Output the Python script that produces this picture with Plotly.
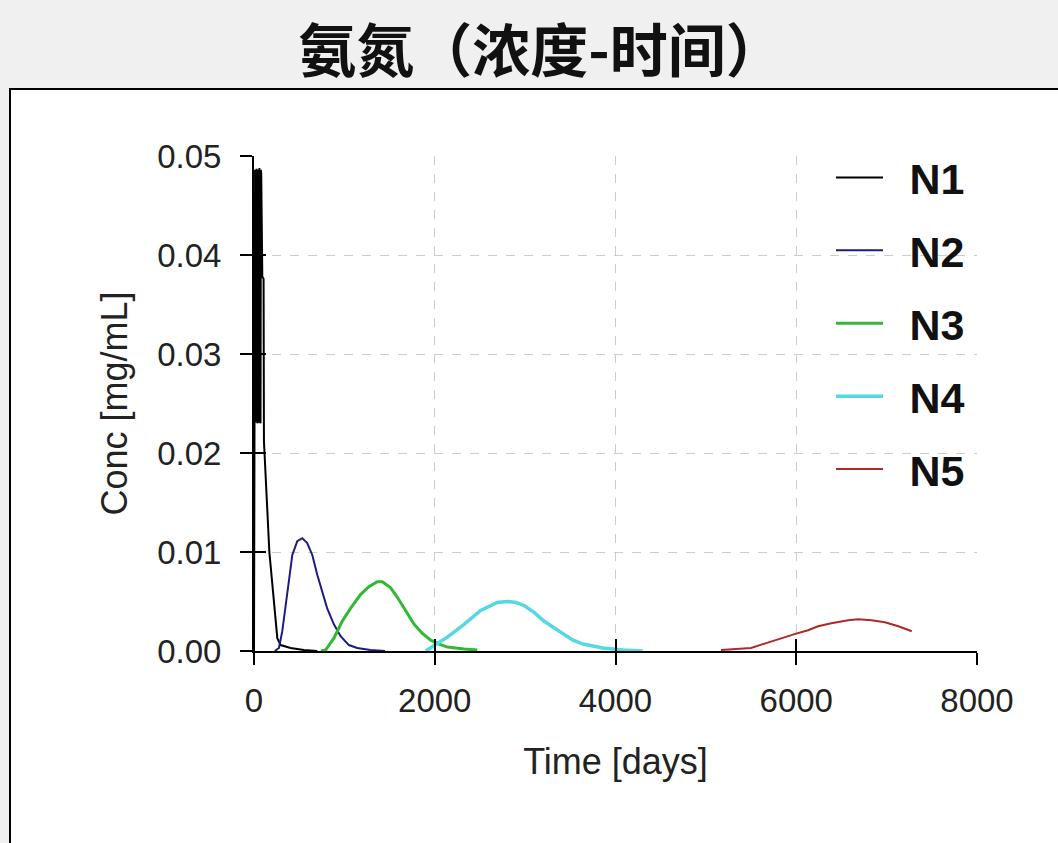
import plotly.graph_objects as go

# ---------------- data ----------------
series_names = ["N1", "N2", "N3", "N4", "N5"]

n1_t = [0, 4, 8, 12, 16, 20, 24, 28, 32, 36, 40, 44, 48, 52, 56, 60, 64, 68, 72,
        76, 80, 92, 106, 110, 170, 239, 258, 295, 405, 552, 700]
n1_c = [0.0000, 0.0480, 0.0232, 0.0486, 0.0235, 0.0484, 0.0231, 0.0487, 0.0234,
        0.0483, 0.0230, 0.0486, 0.0233, 0.0485, 0.0231, 0.0488, 0.0234, 0.0484,
        0.0230, 0.0486, 0.0482, 0.0378, 0.0376, 0.0212, 0.0100, 0.0030,
        0.0013, 0.0006, 0.0003, 0.0001, 0.0000]

n2_t = [230, 276, 313, 350, 387, 424, 479, 534, 589, 645, 700, 755, 810, 884, 958,
        1050, 1142, 1289, 1450]
n2_c = [0.0000, 0.0003, 0.0020, 0.0047, 0.0074, 0.0097, 0.0111, 0.0114, 0.0109,
        0.0097, 0.0077, 0.0060, 0.0043, 0.0027, 0.0015, 0.0006, 0.0003, 0.0001,
        0.0000]

n3_t = [740, 792, 884, 976, 1068, 1179, 1271, 1363, 1420, 1510, 1588, 1680, 1772,
        1860, 1956, 2050, 2140, 2325, 2470]
n3_c = [0.0000, 0.0001, 0.0013, 0.0030, 0.0043, 0.0057, 0.0065, 0.0070, 0.0070,
        0.0064, 0.0054, 0.0040, 0.0027, 0.0018, 0.0011, 0.0007, 0.0004, 0.0002,
        0.0001]

n4_t = [1900, 2000, 2140, 2325, 2508, 2692, 2800, 2900, 2987, 3100, 3198, 3310,
        3420, 3530, 3640, 3860, 4085, 4300]
n4_c = [0.0000, 0.0006, 0.0014, 0.0027, 0.0041, 0.0049, 0.0050, 0.0049, 0.0046,
        0.0039, 0.0031, 0.0024, 0.0017, 0.0011, 0.0007, 0.0003, 0.0001, 0.0000]

n5_t = [5167, 5500, 5685, 5833, 5981, 6130, 6241, 6389, 6574, 6685, 6833, 6981,
        7130, 7278]
n5_c = [0.0001, 0.0003, 0.00085, 0.0013, 0.0017, 0.0021, 0.0025, 0.0028, 0.0031,
        0.0032, 0.0031, 0.0029, 0.0025, 0.0020]

x_ticks = [0, 2000, 4000, 6000, 8000]
y_ticks = [0.00, 0.01, 0.02, 0.03, 0.04, 0.05]
y_tick_labels = ["0.00", "0.01", "0.02", "0.03", "0.04", "0.05"]

title_text = "氨氮（浓度-时间）"
x_title = "Time [days]"
y_title = "Conc [mg/mL]"

# ---------------- styling ----------------
colors = ["#000000", "#1c1c80", "#33b833", "#55d8e2", "#b02828"]
widths = [2, 2, 3, 3.5, 2]
all_t = [n1_t, n2_t, n3_t, n4_t, n5_t]
all_c = [n1_c, n2_c, n3_c, n4_c, n5_c]

W, H = 1058, 843
L, R, T, B = 254, 81, 156, 192
pw, ph = W - L - R, H - T - B

def px(xp):
    return (xp - L) / pw

def py(yp):
    return (H - B - yp) / ph

fig = go.Figure()
for i, name in enumerate(series_names):
    fig.add_trace(go.Scatter(
        x=all_t[i], y=all_c[i], mode="lines", name="\u2002" + name,
        legendgroup=name,
        line=dict(color=colors[i], width=widths[i]),
    ))

font_axis = "Liberation Sans, Arial, sans-serif"

fig.update_layout(
    width=W, height=H, autosize=False,
    margin=dict(l=L, r=R, t=T, b=B, pad=0),
    paper_bgcolor="#f0f0f0",
    plot_bgcolor="#ffffff",
    showlegend=True,
    title=dict(
        text=title_text, xref="container", x=541 / W, xanchor="center",
        yref="container", y=1 - 52 / H, yanchor="middle",
        font=dict(family="Noto Sans CJK SC", size=58, color="#111111", weight="bold"),
    ),
    legend=dict(
        x=px(831), xanchor="left", y=py(143), yanchor="top",
        bgcolor="rgba(0,0,0,0)",
        font=dict(family=font_axis, size=43, color="#111111", weight="bold"),
        itemwidth=47, tracegroupgap=14,
    ),
    xaxis=dict(
        range=[0, 8000], tickvals=x_ticks, ticks="outside", ticklen=12,
        tickwidth=2, tickcolor="#000", showline=True, linecolor="#000", linewidth=2,
        showgrid=True, gridcolor="#cccccc", griddash="dash", gridwidth=1,
        zeroline=False, automargin=False,
        tickfont=dict(family=font_axis, size=33, color="#222"),
        ticklabelstandoff=7,
        title=dict(text=x_title, standoff=31,
                   font=dict(family=font_axis, size=36, color="#222")),
    ),
    yaxis=dict(
        range=[0, 0.05], tickvals=y_ticks, ticktext=y_tick_labels, ticks="outside",
        ticklen=12, tickwidth=2, tickcolor="#000", showline=True, linecolor="#000",
        linewidth=2, showgrid=True, gridcolor="#cccccc", griddash="dash",
        gridwidth=1, zeroline=False, automargin=False,
        tickfont=dict(family=font_axis, size=33, color="#222"),
        ticklabelstandoff=12,
        title=dict(text=y_title, standoff=19,
                   font=dict(family=font_axis, size=36, color="#222")),
    ),
    xaxis2=dict(
        range=[0, 8000], tickvals=x_ticks, ticks="inside", ticklen=12, tickwidth=2,
        tickcolor="#000", showticklabels=False, showgrid=False, zeroline=False,
        overlaying="x", side="bottom", anchor="y",
    ),
    yaxis2=dict(
        range=[0, 0.05], tickvals=y_ticks, ticks="inside", ticklen=12, tickwidth=2,
        tickcolor="#000", showticklabels=False, showgrid=False, zeroline=False,
        overlaying="y", side="left", anchor="x",
    ),
    shapes=[
        dict(type="rect", xref="paper", yref="paper", layer="below",
             x0=px(10), x1=px(1080), y0=py(89), y1=py(870),
             fillcolor="#ffffff", line=dict(color="#000000", width=2)),
    ],
)

# invisible trace to activate the secondary axes (ticks on the inner side)
fig.add_trace(go.Scatter(x=[0], y=[0], xaxis="x2", yaxis="y2", mode="markers",
                         marker=dict(opacity=0), showlegend=False, hoverinfo="skip"))

fig.write_html(
    "out.html",
    config={"displayModeBar": False},
    post_script="document.body.style.margin='0px';document.body.style.background='#f0f0f0';document.body.style.overflow='hidden';",
)
